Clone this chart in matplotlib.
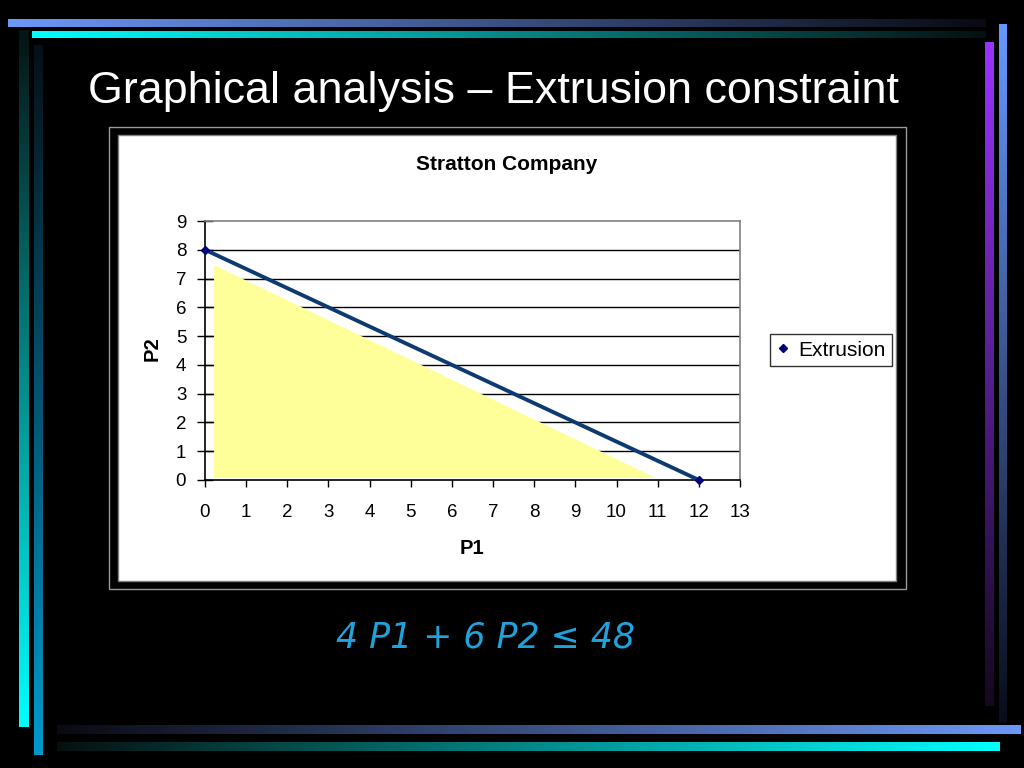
import numpy as np
import matplotlib
matplotlib.use("Agg")
import matplotlib.pyplot as plt
from matplotlib.patches import Rectangle
from matplotlib.lines import Line2D
from matplotlib.colors import to_rgb

plt.rcParams['font.family'] = ['Liberation Sans', 'DejaVu Sans']

# data
constraint_p1 = [0, 12]
constraint_p2 = [8, 0]
# shaded feasible region as drawn on the slide
fill_p1 = [0.22, 0.22, 10.95]
fill_p2 = [0.07, 7.47, 0.07]
x_ticks = list(range(0, 14))
y_ticks = list(range(0, 10))
series_name = 'Extrusion'

W, H = 1024, 768
fig = plt.figure(figsize=(W / 100, H / 100), dpi=100, facecolor='black')

# background layer in pixel coords
bg = fig.add_axes([0, 0, 1, 1])
bg.set_xlim(0, W)
bg.set_ylim(H, 0)
bg.axis('off')
bg.set_facecolor('black')


def grad_bar(x0, y0, x1, y1, c0, c1, horizontal=True):
    n = 256
    t = np.linspace(0, 1, n)[:, None]
    a = np.array(to_rgb(c0))
    b = np.array(to_rgb(c1))
    img = a + (b - a) * t
    if horizontal:
        img = img[None, :, :]
    else:
        img = img[:, None, :]
    bg.imshow(img, extent=(x0, x1, y1, y0), origin='upper', aspect='auto',
              interpolation='bilinear', zorder=1)


# decorative bars
grad_bar(8, 19, 986, 27, '#6c98f8', '#0a0a12')
grad_bar(32, 31, 986, 38, '#00ffff', '#061010')
grad_bar(19, 30, 29, 727, '#061414', '#00ffff', horizontal=False)
grad_bar(34, 45, 43, 755, '#061018', '#0099cc', horizontal=False)
grad_bar(985, 42, 994, 706, '#9933ff', '#140820', horizontal=False)
grad_bar(999, 24, 1007, 723, '#6699ff', '#080c18', horizontal=False)
grad_bar(57, 725, 1021, 734, '#0a0a12', '#6c98f8')
grad_bar(57, 742, 1000, 751, '#061010', '#00ffff')

# chart box
bg.add_patch(Rectangle((109, 127), 797, 462, facecolor='black',
                       edgecolor='#9a9a9a', lw=1, zorder=2))
bg.add_patch(Rectangle((118, 135), 778, 446, facecolor='white',
                       edgecolor='#808080', lw=1, zorder=3))
bg.set_xlim(0, W)
bg.set_ylim(H, 0)

fig.text(88 / W, 1 - 92 / H, 'Graphical analysis \u2013 Extrusion constraint',
         color='white', fontsize=32.3, ha='left', va='center')

# plot area
ax = fig.add_axes([205 / W, 1 - 480 / H, 535 / W, 259 / H])
ax.set_facecolor('white')
ax.set_xlim(0, 13)
ax.set_ylim(0, 9)
ax.set_axisbelow(True)
for v in y_ticks[1:-1]:
    ax.axhline(v, color='black', lw=1, zorder=0.5)

ax.fill(fill_p1, fill_p2, color='#ffff99', lw=0, zorder=2)
ax.plot(constraint_p1, constraint_p2, color='#0d3a70', lw=2.8, zorder=3,
        marker='D', markersize=4.5, markerfacecolor='#000080',
        markeredgecolor='#000080', clip_on=False)

ax.set_xticks(x_ticks)
ax.set_yticks(y_ticks)
ax.tick_params(axis='y', direction='inout', length=11, width=1, pad=8,
               labelsize=13.5, colors='black')
ax.tick_params(axis='x', direction='out', length=5, width=1, pad=12,
               labelsize=13.5, colors='black')
for s in ['left', 'bottom']:
    ax.spines[s].set_color('black')
    ax.spines[s].set_linewidth(1.2)
for s in ['top', 'right']:
    ax.spines[s].set_color('#808080')
    ax.spines[s].set_linewidth(1.2)

handle = Line2D([], [], ls='none', marker='D', markersize=4.5,
                markerfacecolor='#000080', markeredgecolor='#000080')
leg = ax.legend([handle], [series_name], loc='center left',
                bbox_to_anchor=(770 / W, 1 - 350 / H), bbox_transform=fig.transFigure,
                frameon=True, fancybox=False, edgecolor='black', fontsize=15,
                handlelength=0.6, handletextpad=0.45, borderpad=0.3,
                borderaxespad=0)
leg.get_frame().set_linewidth(1)

fig.text(507 / W, 1 - 164 / H, 'Stratton Company', fontsize=15,
         fontweight='bold', ha='center', va='center', color='black')
fig.text(472 / W, 1 - 548 / H, 'P1', fontsize=14.5, fontweight='bold',
         ha='center', va='center')
fig.text(152 / W, 1 - 349 / H, 'P2', fontsize=14.5, fontweight='bold',
         ha='center', va='center', rotation=90)

fig.text(485 / W, 1 - 637 / H, '4 P1 + 6 P2 \u2264 48', fontsize=25,
         style='italic', color='#1ea3dc', ha='center', va='center',
         family='DejaVu Sans')

fig.savefig('out.png', dpi=100, facecolor='black')
